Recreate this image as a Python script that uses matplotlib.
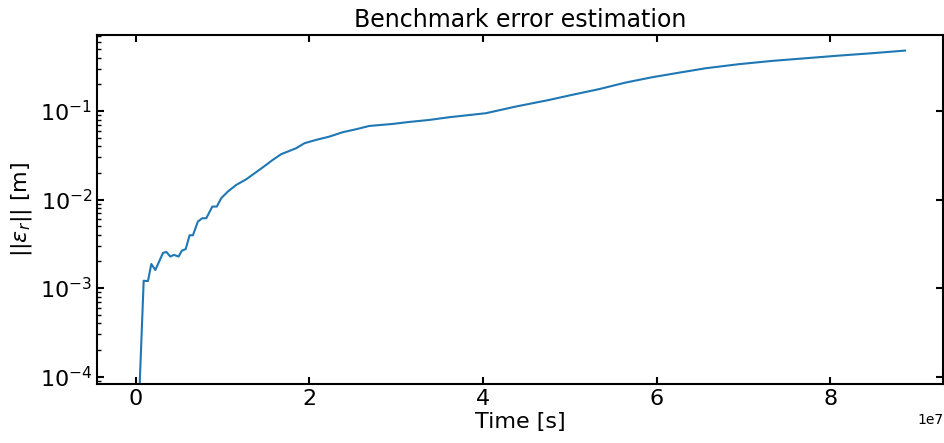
import matplotlib
matplotlib.use('Agg')
import matplotlib.pyplot as plt
import numpy as np

# Temps en unités de 1e7 s, erreur en m
time_1e7 = [0.0, 0.092, 0.141, 0.180, 0.226, 0.314, 0.353, 0.399, 0.440, 0.494,
            0.532, 0.575, 0.621, 0.659, 0.716, 0.767, 0.813, 0.882, 0.934, 0.985,
            1.061, 1.157, 1.272, 1.406, 1.502, 1.578, 1.675, 1.847, 1.943, 2.077,
            2.230, 2.383, 2.537, 2.690, 2.957, 3.149, 3.379, 3.609, 4.031, 4.376,
            4.759, 5.026, 5.333, 5.640, 5.946, 6.253, 6.560, 6.943, 7.325, 7.709,
            8.092, 8.475, 8.858]
error_m = [5.6e-6, 1.21e-3, 1.20e-3, 1.87e-3, 1.60e-3, 2.49e-3, 2.56e-3, 2.27e-3, 2.37e-3, 2.27e-3,
           2.65e-3, 2.75e-3, 3.95e-3, 3.95e-3, 5.64e-3, 6.15e-3, 6.15e-3, 8.32e-3, 8.32e-3, 1.035e-2,
           1.23e-2, 1.46e-2, 1.69e-2, 2.10e-2, 2.46e-2, 2.80e-2, 3.25e-2, 3.79e-2, 4.32e-2, 4.71e-2,
           5.13e-2, 5.75e-2, 6.21e-2, 6.77e-2, 7.13e-2, 7.51e-2, 7.91e-2, 8.49e-2, 9.42e-2, 0.112,
           0.133, 0.152, 0.176, 0.209, 0.240, 0.270, 0.303, 0.337, 0.367, 0.393,
           0.421, 0.448, 0.480]

t = np.array(time_1e7) * 1e7

fig = plt.figure(figsize=(9.44, 4.43), dpi=100)
ax = fig.add_axes([0.103, 0.1325, 0.8964, 0.7885])
ax.plot(t, error_m, color="tab:blue", lw=1.5)
ax.set_yscale("log")
ax.set_ylim(8.2e-5, 0.72)

ax.set_title("Benchmark error estimation", fontsize=17)
ax.set_xlabel("Time [s]", fontsize=16, labelpad=2)
ax.set_ylabel(r"$||\varepsilon_r||$ [m]", fontsize=16)

ax.tick_params(which="both", direction="in", labelsize=16)
ax.tick_params(which="major", top=True, right=True, length=5, width=1.5)
ax.tick_params(which="minor", length=3, width=1)
for s in ax.spines.values():
    s.set_linewidth(1.5)

fig.savefig("out.png", dpi=100)
